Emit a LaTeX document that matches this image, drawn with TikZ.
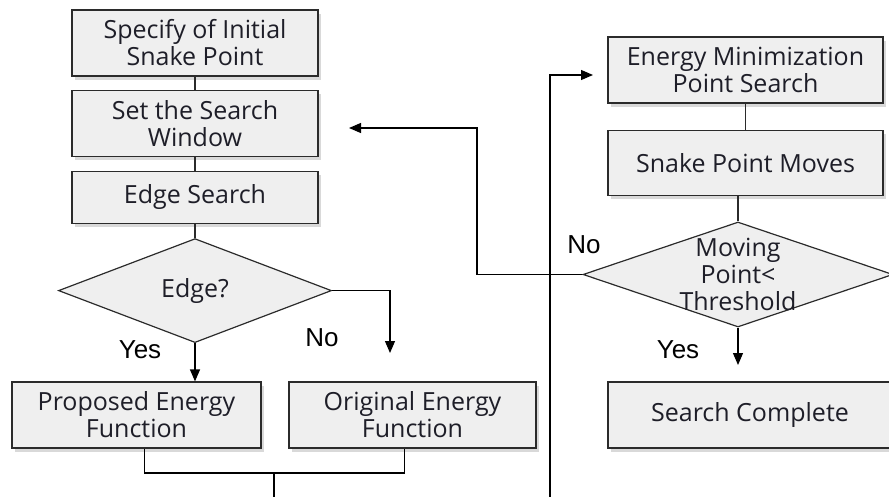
\documentclass[tikz,border=0pt]{standalone}
\usepackage{fontspec}
\setmainfont{Open Sans}
\newfontfamily\answerfont{Liberation Sans}
\usepackage{tikz}
\usetikzlibrary{shapes, arrows.meta, positioning, shadows}
\definecolor{boxgray}{HTML}{EFEFEF}
\definecolor{linegray}{HTML}{2B2B2B}
\definecolor{textdark}{HTML}{1E1E28}

\begin{document}
\begin{tikzpicture}[x=1pt, y=-1pt, >={Triangle[length=12pt, width=10pt]}, line width=1.2pt, align=center,
  font=\fontsize{25}{27}\selectfont, text=textdark,
  block/.style={rectangle, draw=linegray, fill=boxgray, minimum width=246pt, minimum height=66pt, inner sep=2pt,
                drop shadow={opacity=0.3, shadow xshift=3pt, shadow yshift=-4pt}},
  decision/.style={diamond, draw=linegray, fill=boxgray, inner sep=0pt, minimum width=273pt, minimum height=104pt},
  answer/.style={font=\answerfont\fontsize{26}{28}\selectfont, text=black}]
  \clip (0,0) rectangle (889,497);

  % left column
  \node[block]                        (spec)       at (195,43)              {Specify of Initial\\Snake Point};
  \node[block]                        (window)     [below=13pt of spec]     {Set the Search\\Window};
  \node[block, minimum height=52pt]   (edgesearch) [below=14pt of window]   {Edge Search};
  \node[decision]                     (edge)       [below=14pt of edgesearch] {Edge?};
  \node[block, minimum width=249pt]   (proposed)   at (136.5,415)           {Proposed Energy\\Function};
  \node[block, minimum width=247pt]   (original)   at (412.5,415)           {Original Energy\\Function};

  % right column
  \node[block, minimum width=275pt]   (minsearch)  at (745.5,70)            {Energy Minimization\\Point Search};
  \node[block, minimum width=275pt, minimum height=65pt] (moves) [below=26pt of minsearch] {Snake Point Moves};
  \node[decision, minimum width=310pt, minimum height=105pt] (threshold) at (738,274.5) {};
  \node                               (thresholdtext) at (threshold.center) {Moving\\Point<\\Threshold};
  \node[block, minimum width=284pt]   (complete)   at (750,415)             {Search Complete};

  % answers
  \node[answer] (yesleft)  at (140,350) {Yes};
  \node[answer] (noleft)   at (322,338) {No};
  \node[answer] (noright)  at (584,245) {No};
  \node[answer] (yesright) at (678,350) {Yes};

  % free ends
  \coordinate (noend)       at (390,353);
  \coordinate (yesend)      at (738,365);
  \coordinate (loopturn)    at (477,128);
  \coordinate (setin)       at (349,128);
  \coordinate (merge)       at (274,473);
  \coordinate (bottomleft)  at (274,500);
  \coordinate (bottomright) at (550,500);
  \coordinate (feed)        at (593,75);

  \draw[linegray] (spec) -- (window);
  \draw[linegray] (window) -- (edgesearch);
  \draw[linegray] (edgesearch) -- (edge);
  \draw[->] (edge.south) -- (edge.south |- proposed.north);
  \draw[->] (edge.east) -| (noend);
  \draw ([xshift=8pt]proposed.south) |- (merge) -| ([xshift=-8pt]original.south);
  \draw (merge) -- (bottomleft);
  \draw[->] (bottomright) |- (feed);
  \draw[linegray] (minsearch) -- (moves);
  \draw[linegray] (threshold.north) -- (threshold.north |- moves.south);
  \draw[->] (threshold.south) -- (yesend);
  \draw[->] (threshold.west) -| (loopturn) -- (setin);
\end{tikzpicture}
\end{document}
